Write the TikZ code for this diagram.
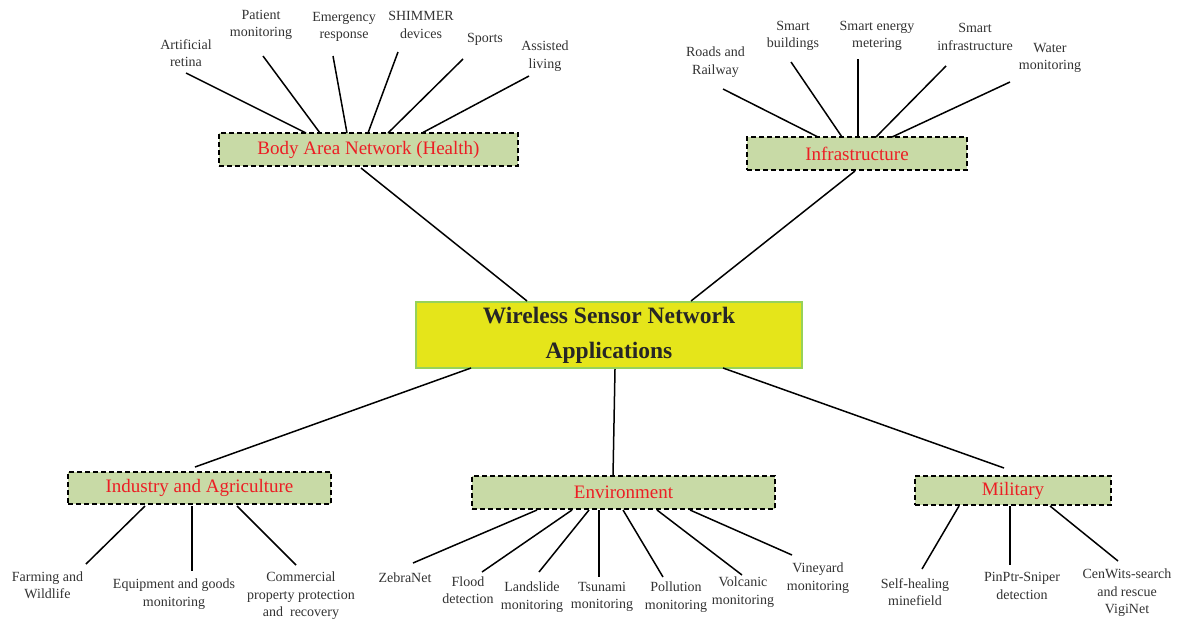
\documentclass[tikz,border=0pt]{standalone}
\usepackage{fontspec}
\setmainfont{Liberation Serif}
\definecolor{catfill}{RGB}{200,218,166}
\definecolor{catred}{RGB}{236,30,36}
\definecolor{wsnfill}{RGB}{229,229,26}
\definecolor{wsnedge}{RGB}{150,210,90}
\definecolor{leafgray}{RGB}{50,50,50}
\tikzset{
  cat/.style={draw=black, fill=catfill, dash pattern=on 5pt off 3pt, line width=1.5pt, inner sep=0pt,
    text=catred, font=\fontsize{19}{22}\selectfont},
  wsnbox/.style={draw=wsnedge, fill=wsnfill, line width=1.4pt, inner sep=0pt, align=center,
    text=black!85, font=\fontsize{23.5}{35}\selectfont\bfseries},
  leaf/.style={inner sep=0pt, align=center, text=leafgray, font=\fontsize{14}{17.5}\selectfont},
  conn/.style={draw=black, line width=1.5pt}
}
\begin{document}
\begin{tikzpicture}[x=1pt,y=-1pt]
\useasboundingbox (0,0) rectangle (1177,619);
% main boxes
\node[wsnbox, minimum width=386pt, minimum height=66pt] (wsn) at (609,335) {Wireless Sensor Network\\Applications};
\node[cat, minimum width=299pt, minimum height=33pt] (ban) at (368.5,149.5) {Body Area Network (Health)};
\node[cat, minimum width=220pt, minimum height=33pt] (inf) at (857,153.5) {Infrastructure};
\node[cat, minimum width=263pt, minimum height=32pt] (ind) at (199.5,488) {Industry and Agriculture};
\node[cat, minimum width=303pt, minimum height=33pt] (env) at (623.5,492.5) {Environment};
\node[cat, minimum width=196pt, minimum height=29pt] (mil) at (1013,490.5) {Military};

% connectors center -> categories
\coordinate (w1) at (527,301); \coordinate (b0) at (361,168);
\coordinate (w2) at (691,301); \coordinate (i0) at (855,171);
\coordinate (w3) at (471,368); \coordinate (d0) at (195,467);
\coordinate (w4) at (615,369); \coordinate (e0) at (613,476);
\coordinate (w5) at (723,368); \coordinate (m0) at (1004,468);
\draw[conn] (w1) -- (b0);
\draw[conn] (w2) -- (i0);
\draw[conn] (w3) -- (d0);
\draw[conn] (w4) -- (e0);
\draw[conn] (w5) -- (m0);

% Body Area Network leaves
\node[leaf] (ar) at (186,53) {Artificial\\retina};
\node[leaf] (pm) at (261,25) {Patient\\monitoring};
\node[leaf] (er) at (344,27) {Emergency\\response};
\node[leaf] (sh) at (421,25) {SHIMMER\\devices};
\node[leaf] (sp) at (485,39) {Sports};
\node[leaf] (al) at (545,56) {Assisted\\living};
\coordinate (ar1) at (186,73);  \coordinate (ar2) at (306,133);
\coordinate (pm1) at (263,56);  \coordinate (pm2) at (320,133);
\coordinate (er1) at (333,56);  \coordinate (er2) at (347,133);
\coordinate (sh1) at (398,52);  \coordinate (sh2) at (368,133);
\coordinate (sp1) at (463,59);  \coordinate (sp2) at (388,133);
\coordinate (al1) at (529,76);  \coordinate (al2) at (422,133);
\foreach \n in {ar,pm,er,sh,sp,al} \draw[conn] (\n1) -- (\n2);

% Infrastructure leaves
\node[leaf] (rr) at (715.5,62) {Roads and\\Railway};
\node[leaf] (sb) at (793,36) {Smart\\buildings};
\node[leaf] (se) at (877,36) {Smart energy\\metering};
\node[leaf] (si) at (975,37) {Smart\\infrastructure};
\node[leaf] (wm) at (1050,58) {Water\\monitoring};
\coordinate (rr1) at (723,89);  \coordinate (rr2) at (818,137);
\coordinate (sb1) at (791,62);  \coordinate (sb2) at (842,137);
\coordinate (se1) at (858,59);  \coordinate (se2) at (858,137);
\coordinate (si1) at (946,66);  \coordinate (si2) at (876,137);
\coordinate (wm1) at (1010,82); \coordinate (wm2) at (892,137);
\foreach \n in {rr,sb,se,si,wm} \draw[conn] (\n1) -- (\n2);

% Industry leaves
\node[leaf] (fw) at (47.5,585) {Farming and\\Wildlife};
\node[leaf] (eg) at (174,594) {Equipment and goods\\monitoring};
\node[leaf] (cp) at (301,596) {Commercial\\property protection\\and\ \ recovery};
\coordinate (fw1) at (145,506); \coordinate (fw2) at (86,564);
\coordinate (eg1) at (192,506); \coordinate (eg2) at (192,571);
\coordinate (cp1) at (237,506); \coordinate (cp2) at (296,565);
\foreach \n in {fw,eg,cp} \draw[conn] (\n1) -- (\n2);

% Environment leaves
\node[leaf] (zn) at (405,578) {ZebraNet};
\node[leaf] (fd) at (468,590) {Flood\\detection};
\node[leaf] (lm) at (532,597) {Landslide\\monitoring};
\node[leaf] (tm) at (602,597) {Tsunami\\monitoring};
\node[leaf] (po) at (676,597) {Pollution\\monitoring};
\node[leaf] (vo) at (743,592) {Volcanic\\monitoring};
\node[leaf] (vi) at (818,578) {Vineyard\\monitoring};
\coordinate (zn1) at (537,510); \coordinate (zn2) at (413,563);
\coordinate (fd1) at (572,510); \coordinate (fd2) at (482,572);
\coordinate (lm1) at (589,510); \coordinate (lm2) at (539,572);
\coordinate (tm1) at (599,510); \coordinate (tm2) at (599,577);
\coordinate (po1) at (623,510); \coordinate (po2) at (663,577);
\coordinate (vo1) at (657,510); \coordinate (vo2) at (742,575);
\coordinate (vi1) at (690,510); \coordinate (vi2) at (792,555);
\foreach \n in {zn,fd,lm,tm,po,vo,vi} \draw[conn] (\n1) -- (\n2);

% Military leaves
\node[leaf] (shm) at (915,592) {Self-healing\\minefield};
\node[leaf] (pps) at (1022,586) {PinPtr-Sniper\\detection};
\node[leaf] (cw) at (1127,593) {CenWits-search\\and rescue\\VigiNet};
\coordinate (shm1) at (959,506);  \coordinate (shm2) at (922,569);
\coordinate (pps1) at (1010,506); \coordinate (pps2) at (1010,565);
\coordinate (cw1) at (1050,506);  \coordinate (cw2) at (1118,561);
\foreach \n in {shm,pps,cw} \draw[conn] (\n1) -- (\n2);
\end{tikzpicture}
\end{document}
